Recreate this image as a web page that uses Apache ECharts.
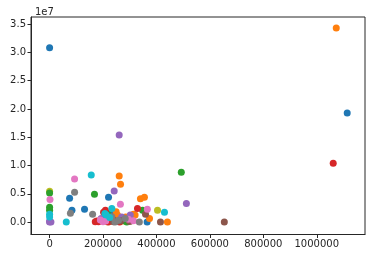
<!DOCTYPE html>
<html><head><meta charset="utf-8">
<script src="https://cdn.jsdelivr.net/npm/echarts@6/dist/echarts.min.js"></script>
<style>html,body{margin:0;padding:0;background:#fff}#c{width:375px;height:259px}</style>
</head><body><div id="c"></div>
<script>
// data points [x, y] grouped by colour
const olive = [[0,5450000],[404000,2070000],[218000,180000],[262000,350000],[274000,180000],[310000,650000],[277000,300000],[215000,50000],[236000,200000]];
const blue = [[0,30800000],[1114000,19300000],[220600,4400000],[74800,4200000],[83700,2100000],[130800,2250000],[239000,1540000],[365000,0]];
const orange = [[1073000,34300000],[260500,8150000],[265500,6700000],[340000,4100000],[355000,4400000],[441000,0],[374000,650000],[249000,1830000],[254000,1240000],[246000,530000],[314000,1370000],[320000,1240000],[285000,900000]];
const green = [[493000,8800000],[0,5150000],[168000,4900000],[0,2600000],[0,2100000],[348000,2070000],[217000,1540000],[227000,650000],[279000,230000],[289000,0],[230000,400000],[255000,100000]];
const red = [[1061600,10400000],[329000,2400000],[202000,1720000],[209000,2070000],[171000,50000],[183000,50000],[177000,200000],[262000,0],[220000,0],[240000,300000]];
const purple = [[260500,15400000],[241800,5500000],[512000,3300000],[0,0],[5000,0],[0,150000],[193000,650000],[302000,1240000],[270000,900000]];
const brown = [[654000,0],[415000,0],[359000,1370000],[239000,50000],[267000,230000],[250000,100000],[300000,100000]];
const pink = [[93500,7600000],[265000,3150000],[1500,4000000],[366000,2250000],[190000,350000],[314000,230000],[200000,50000],[295000,500000],[210000,200000]];
const gray = [[93500,5270000],[78000,1540000],[161000,1360000],[233000,940000],[283000,650000],[336000,0],[245000,0],[258000,300000]];
const cyan = [[155900,8330000],[233000,2400000],[430000,1720000],[62400,0],[0,1400000],[0,900000],[212000,1240000],[207000,1500000],[225000,800000]];

const xTicks = [0,200000,400000,600000,800000,1000000];
const yTicks = [0,5000000,10000000,15000000,20000000,25000000,30000000,35000000];

const groups = [
  [olive,'#bcbd22'],[blue,'#1f77b4'],[orange,'#ff7f0e'],[green,'#2ca02c'],[red,'#d62728'],
  [purple,'#9467bd'],[brown,'#8c564b'],[pink,'#e377c2'],[gray,'#7f7f7f'],[cyan,'#17becf']
];

const chart = echarts.init(document.getElementById('c'), null, {renderer:'canvas'});
const font = 'DejaVu Sans';
chart.setOption({
  animation:false,
  title:{text:'1e7', left:30, top:2, textStyle:{fontFamily:font, fontSize:10, fontWeight:'normal', color:'#262626'}},
  grid:{left:31, right:10, top:17, bottom:24.5, show:true, borderColor:'#262626', borderWidth:1, backgroundColor:'#fff'},
  xAxis:{type:'value', min:-69600, max:1180600,
    splitLine:{show:false},
    axisLine:{show:true, onZero:false, lineStyle:{color:'#262626'}},
    axisTick:{show:true, length:3.5, customValues:xTicks, lineStyle:{color:'#262626'}},
    axisLabel:{customValues:xTicks, fontFamily:font, fontSize:10, color:'#262626', margin:5,
      formatter:v=>String(Math.round(v))}},
  yAxis:{type:'value', min:-2200000, max:36250000,
    splitLine:{show:false},
    axisLine:{show:true, onZero:false, lineStyle:{color:'#262626'}},
    axisTick:{show:true, length:3.5, customValues:yTicks, lineStyle:{color:'#262626'}},
    axisLabel:{customValues:yTicks, fontFamily:font, fontSize:10, color:'#262626', margin:5,
      formatter:v=>(v/1e7).toFixed(1)}},
  series: groups.map(([d,c])=>({type:'scatter', data:d, symbolSize:7, itemStyle:{color:c, opacity:1}}))
});
</script></body></html>
